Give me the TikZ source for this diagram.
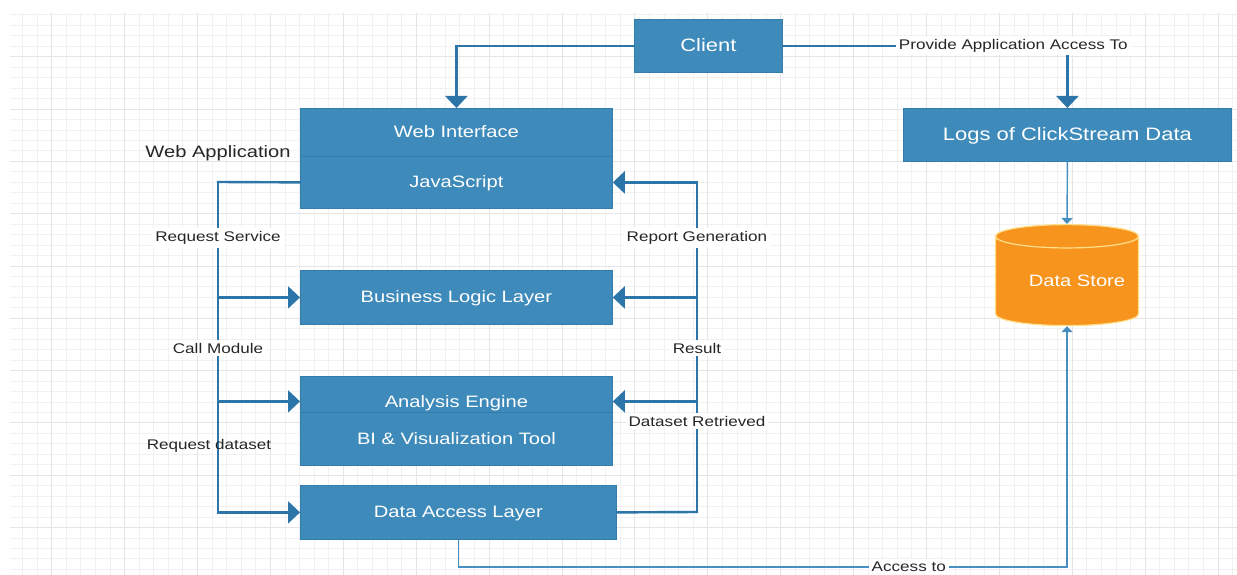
\documentclass[tikz,border=0pt]{standalone}
\usepackage{fontspec}
\setmainfont{Liberation Sans}[FakeStretch=1.22]
\usetikzlibrary{arrows.meta,shapes.geometric}
\definecolor{boxblue}{RGB}{62,138,186}
\definecolor{boxedge}{RGB}{52,124,172}
\definecolor{wireblue}{RGB}{44,117,168}
\definecolor{thinblue}{RGB}{72,143,193}
\definecolor{storeorange}{RGB}{247,148,30}
\definecolor{storeedge}{RGB}{255,222,140}
\definecolor{gridminor}{RGB}{241,241,241}
\definecolor{gridmajor}{RGB}{229,229,229}
\tikzset{
  blk/.style={draw=boxedge, fill=boxblue, text=white, line width=0.8pt, inner sep=0pt,
    anchor=north west, font=\fontsize{16.5}{18}\selectfont, text height=13.5pt, text depth=2.5pt},
  wire/.style={draw=wireblue, line width=2.4pt, line cap=rect},
  thinwire/.style={draw=thinblue, line width=1.4pt},
  bigarr/.style={-{Triangle[width=22pt,length=12pt]}},
  smallarr/.style={-{Triangle[width=11pt,length=6pt]}},
  lbl/.style={fill=white, inner sep=3pt, text=black!85, font=\fontsize{14}{16}\selectfont},
}
\begin{document}
\begin{tikzpicture}[x=1pt,y=-1pt]
\useasboundingbox[fill=white] (0,0) rectangle (1237,575);
% grid
\foreach \i in {1,...,84}{
	\draw[gridminor,line width=0.8pt] ({7.9+14.58*\i},13) -- ({7.9+14.58*\i},575);
};
\foreach \j in {0,...,53}{
	\draw[gridminor,line width=0.8pt] (10,{14.9+10.46*\j}) -- (1237,{14.9+10.46*\j});
};
\foreach \i in {3,8,...,83}{
	\draw[gridmajor,line width=0.8pt] ({7.9+14.58*\i},13) -- ({7.9+14.58*\i},575);
};
\foreach \j in {4,9,...,49}{
	\draw[gridmajor,line width=0.8pt] (10,{14.9+10.46*\j}) -- (1237,{14.9+10.46*\j});
};
% blocks
\node[blk,name=client,minimum width=148pt,minimum height=53pt,font=\fontsize{18}{20}\selectfont] at (634,19){Client};
\node[blk,name=webint,minimum width=312pt,minimum height=48pt] at (300,108){Web Interface};
\node[blk,name=js,minimum width=312pt,minimum height=52pt] at (300,156){JavaScript};
\node[blk,name=logs,minimum width=328pt,minimum height=53pt,font=\fontsize{18}{20}\selectfont] at (903,108){Logs of ClickStream Data};
\node[blk,name=bll,minimum width=312pt,minimum height=54pt] at (300,270){Business Logic Layer};
\node[blk,name=ae,minimum width=312pt,minimum height=36pt,text height=30pt,text depth=4pt] at (300,376){Analysis Engine};
\node[blk,name=bi,minimum width=312pt,minimum height=53pt] at (300,412){BI \& Visualization Tool};
\node[blk,name=dal,minimum width=316pt,minimum height=54pt] at (300,485){Data Access Layer};
\node[cylinder,shape border rotate=90,aspect=3.5,draw=storeedge,fill=storeorange,line width=1.2pt,
	minimum width=143pt,minimum height=101pt,name=store] at (1067,283){};
\node[name=storetxt,text=white,font=\fontsize{16.5}{18}\selectfont] at (1077,281){Data Store};
\node[name=webapp,text=black!85,font=\fontsize{16.5}{18}\selectfont] at (218,153){Web Application};
% connectors
\draw[wire,bigarr] (client.west) -| (webint.north);
\draw[wire,bigarr] (client.east) -| node[lbl,pos=0.405,name=provlbl]{Provide Application Access To} (logs.north);
\coordinate (lt) at (218,182);
\coordinate (rt) at (697,512);
\draw[wire] (js.west) -- (lt);
\foreach \n/\s in {bll/0pt,ae/-7pt,dal/0pt}{
	\draw[wire,bigarr] (lt) |- ([yshift=\s]\n.west);
};
\draw[wire] (dal.east) -- (rt);
\foreach \n/\s in {js/0pt,bll/0pt,ae/-7pt}{
	\draw[wire,bigarr] (rt) |- ([yshift=\s]\n.east);
};
\draw[thinwire,smallarr] (logs.south) -- (store.north);
\draw[thinwire,smallarr] (dal.south) -- ++(0,27) -| node[lbl,pos=0.37,name=acclbl]{Access to} (store.south);
% labels
\foreach \nm/\px/\py/\txt in {reqsvc/218/238/Request Service,callmod/218/348/Call Module,
	repgen/697/238/Report Generation,result/697/348/Result,dsret/697/421/Dataset Retrieved}{
	\node[lbl,name=\nm] at (\px,\py){\txt};
};
\node[lbl,fill=none,name=reqdata] at (209,446){Request dataset};
\end{tikzpicture}
\end{document}
